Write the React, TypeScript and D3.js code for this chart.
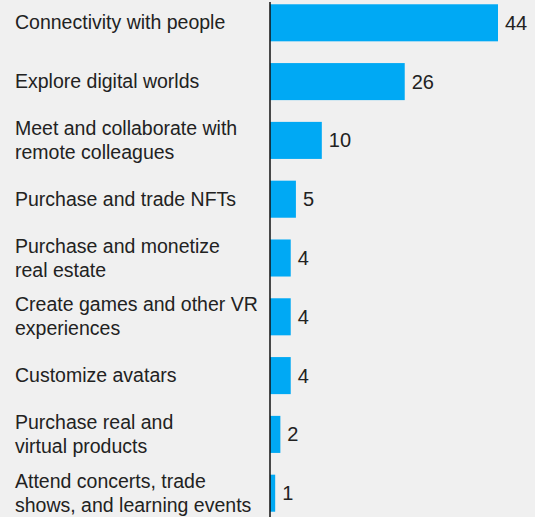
import React from "react";
import * as d3 from "d3";

const categories: string[][] = [
  ["Connectivity with people"],
  ["Explore digital worlds"],
  ["Meet and collaborate with", "remote colleagues"],
  ["Purchase and trade NFTs"],
  ["Purchase and monetize", "real estate"],
  ["Create games and other VR", "experiences"],
  ["Customize avatars"],
  ["Purchase real and", "virtual products"],
  ["Attend concerts, trade", "shows, and learning events"],
];
const values = [44, 26, 10, 5, 4, 4, 4, 2, 1];

const width = 535;
const height = 517;
const axisX = 270;

const App: React.FC = () => {
  const ids = categories.map((_, i) => String(i));

  // Scales
  const x = d3.scaleLinear().domain([0, 44]).range([axisX, 498]);
  const y = d3
    .scaleBand()
    .domain(ids)
    .range([-6.6, 522.6])
    .paddingInner(0.37)
    .paddingOuter(0.185);

  const font = "'Liberation Sans', Arial, Helvetica, sans-serif";

  return (
    <svg
      width={width}
      height={height}
      style={{ position: "absolute", left: 0, top: 0, background: "#f0f0f0" }}
    >
      <rect width={width} height={height} fill="#f0f0f0" />
      {values.map((v, i) => {
        const y0 = y(String(i))!;
        const cy = y0 + y.bandwidth() / 2;
        const lines = categories[i];
        return (
          <g key={i}>
            <rect x={x(0)} y={y0} width={x(v) - x(0)} height={y.bandwidth()} fill="#00a9f4" />
            <text
              x={x(v) + 7}
              y={cy + 7}
              fontFamily={font}
              fontSize={20}
              fill="#222"
            >
              {v}
            </text>
            {lines.map((l, j) => (
              <text
                key={j}
                x={15}
                y={cy + 6.5 + (j - (lines.length - 1) / 2) * 24}
                fontFamily={font}
                fontSize={19.5}
                fill="#222"
              >
                {l}
              </text>
            ))}
          </g>
        );
      })}
      {/* axis line */}
      <line x1={axisX} x2={axisX} y1={2} y2={height} stroke="#111" strokeWidth={1.5} />
    </svg>
  );
};

export default App;
